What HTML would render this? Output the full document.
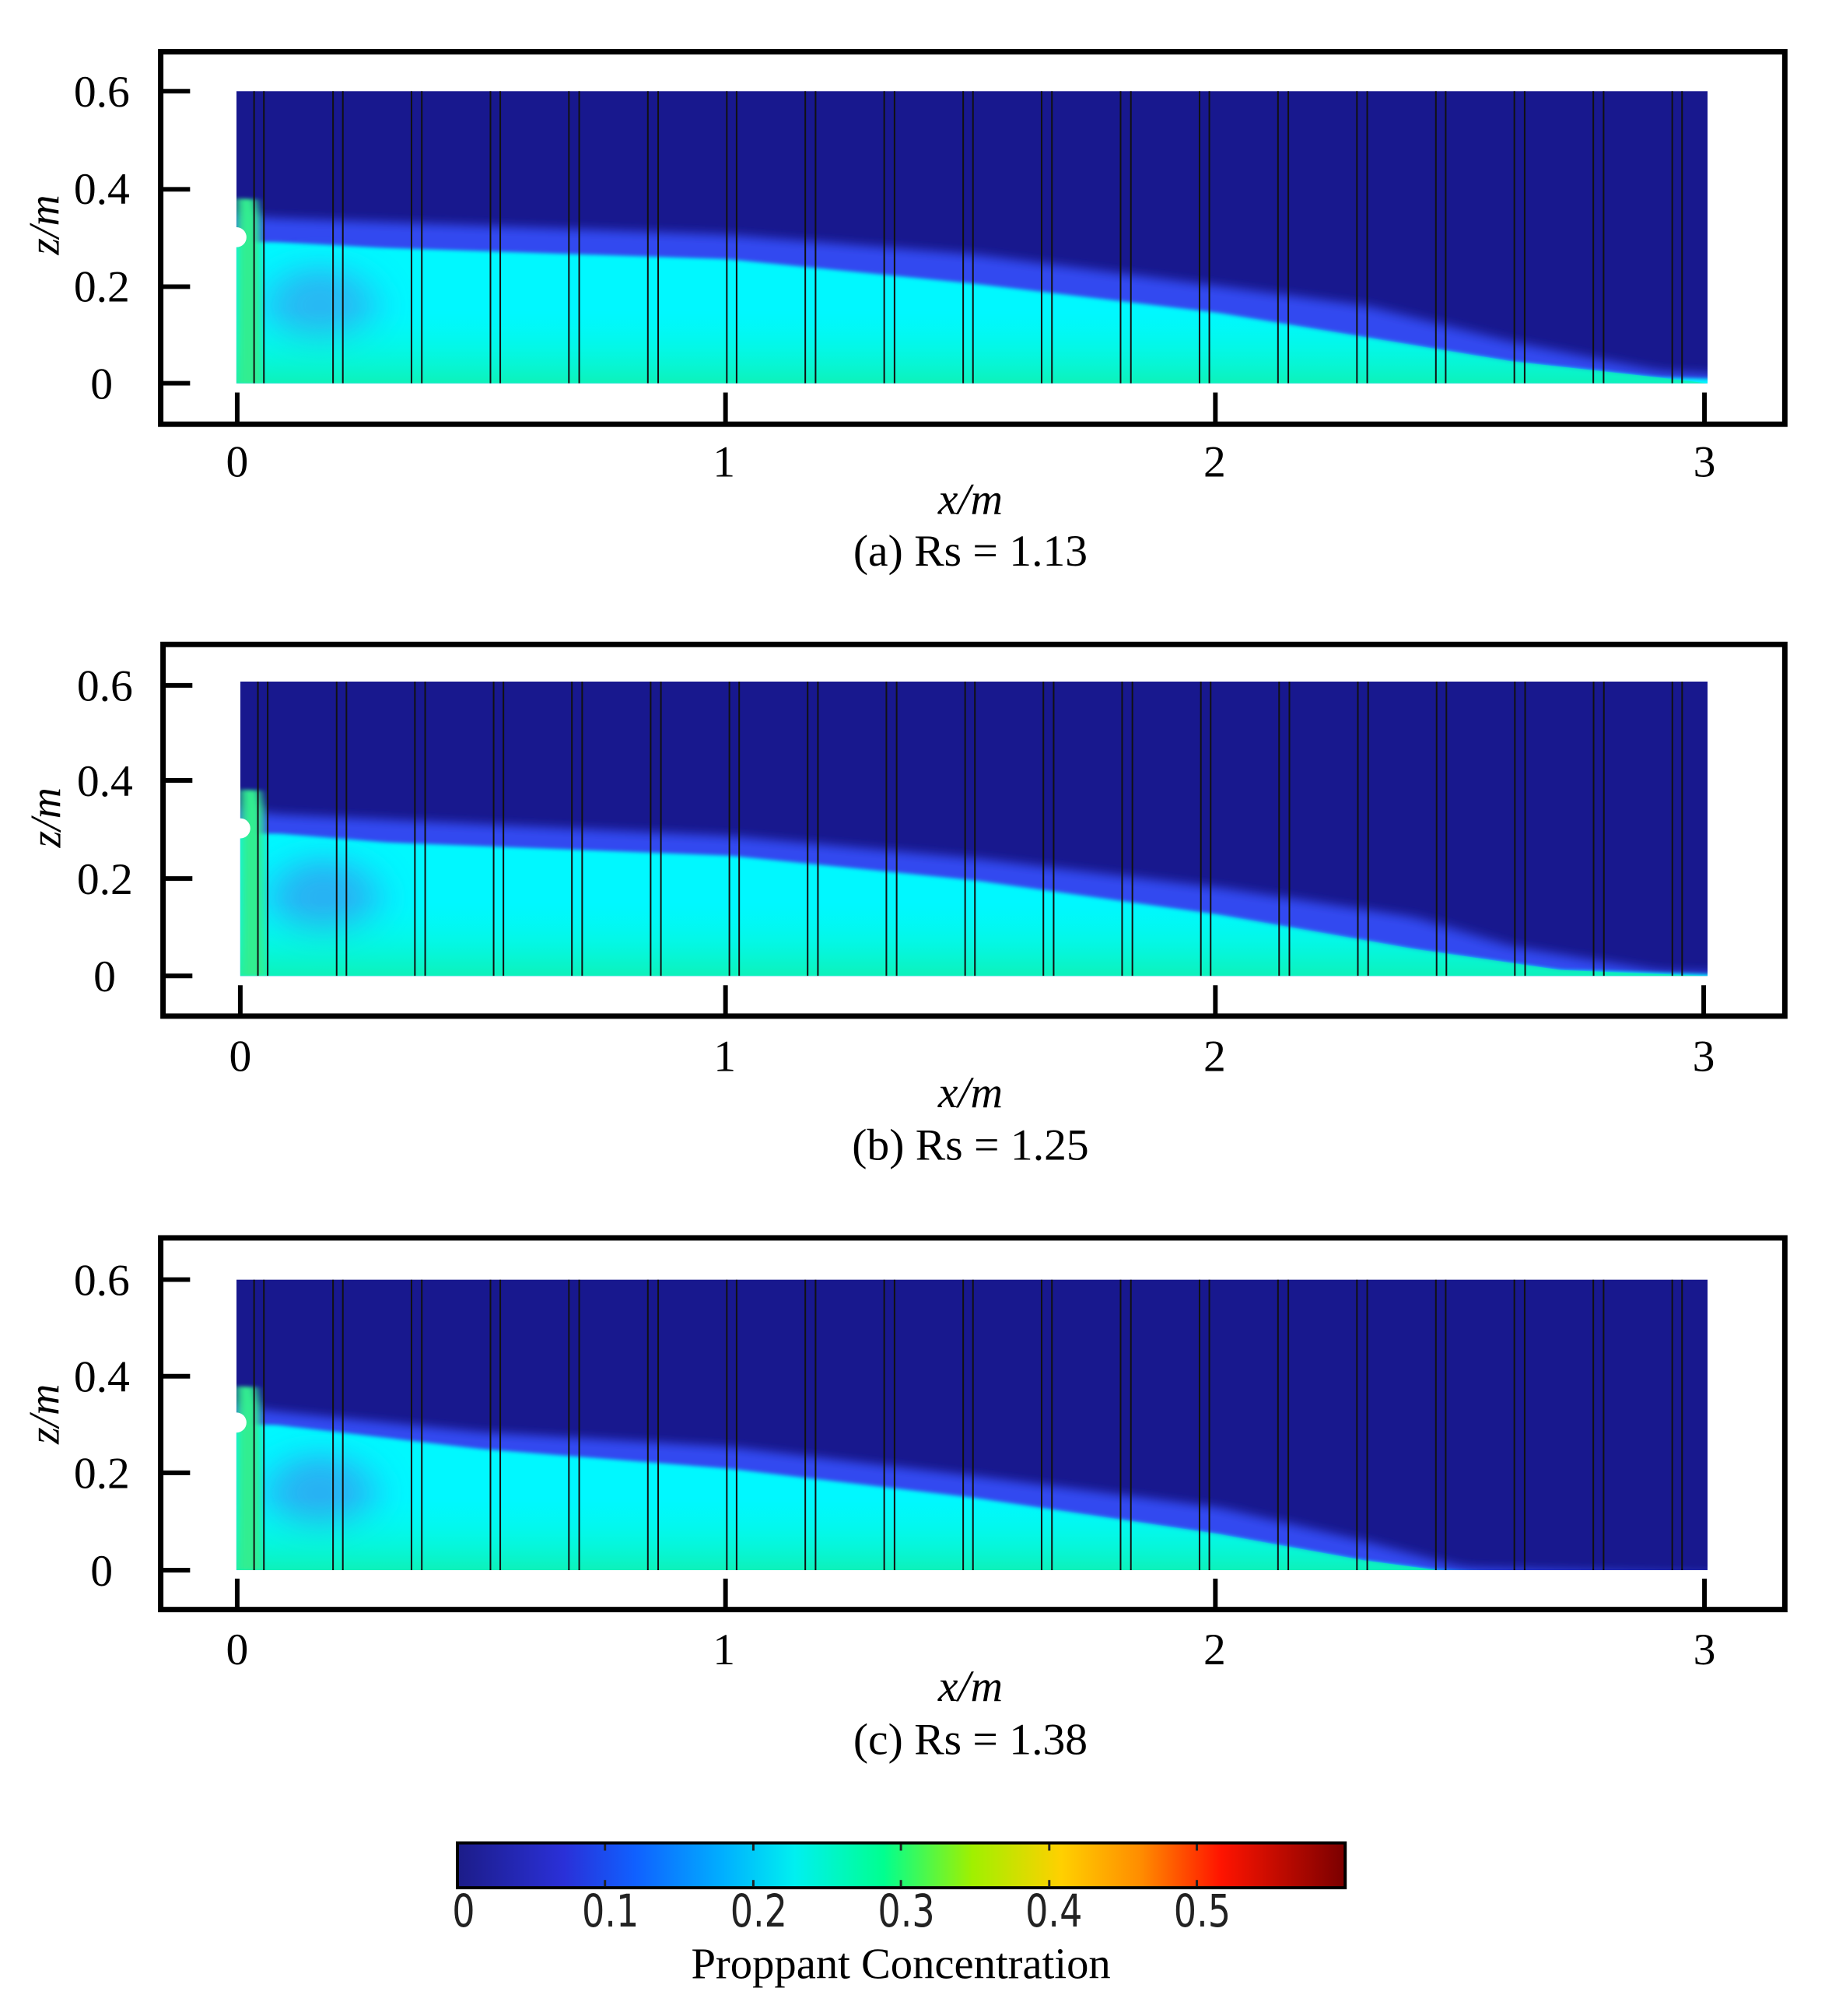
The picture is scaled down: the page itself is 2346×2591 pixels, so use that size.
<!DOCTYPE html>
<html><head><meta charset="utf-8"><style>
html,body{margin:0;padding:0;background:#fff;}
svg{display:block;}
</style></head><body>
<svg width="2346" height="2591" viewBox="0 0 2362 2609" preserveAspectRatio="none" xmlns="http://www.w3.org/2000/svg" font-family="'Liberation Serif', serif">
<defs>
  <filter id="b1" x="-10%" y="-50%" width="120%" height="200%"><feGaussianBlur stdDeviation="22 10"/></filter>
  <filter id="b2" x="-10%" y="-50%" width="120%" height="200%"><feGaussianBlur stdDeviation="10 4"/></filter>
  <filter id="b3" x="-50%" y="-50%" width="200%" height="200%"><feGaussianBlur stdDeviation="40 30"/></filter>
  <linearGradient id="bot" x1="0" y1="0" x2="0" y2="600" gradientUnits="userSpaceOnUse">
    <stop offset="0" stop-color="#00ffe0" stop-opacity="0"/>
    <stop offset="0.75" stop-color="#00ffe0" stop-opacity="0"/>
    <stop offset="1" stop-color="#10f0a8" stop-opacity="0.8"/>
  </linearGradient>
  <linearGradient id="jet" x1="0" y1="0" x2="1" y2="0">
    <stop offset="0" stop-color="#1c1c88"/>
    <stop offset="0.12" stop-color="#2a30d8"/>
    <stop offset="0.2" stop-color="#1060ff"/>
    <stop offset="0.3" stop-color="#00b0ff"/>
    <stop offset="0.38" stop-color="#00f0f0"/>
    <stop offset="0.48" stop-color="#00ff90"/>
    <stop offset="0.58" stop-color="#a0f000"/>
    <stop offset="0.68" stop-color="#ffd000"/>
    <stop offset="0.77" stop-color="#ff8c00"/>
    <stop offset="0.86" stop-color="#ff1400"/>
    <stop offset="1" stop-color="#7a0000"/>
  </linearGradient>
  <g id="vlines" stroke="#111" stroke-width="2">
    <line x1="36" y1="0" x2="36" y2="600" vector-effect="non-scaling-stroke"/><line x1="56" y1="0" x2="56" y2="600" vector-effect="non-scaling-stroke"/>
    <line x1="197" y1="0" x2="197" y2="600" vector-effect="non-scaling-stroke"/><line x1="217" y1="0" x2="217" y2="600" vector-effect="non-scaling-stroke"/>
    <line x1="357" y1="0" x2="357" y2="600" vector-effect="non-scaling-stroke"/><line x1="378" y1="0" x2="378" y2="600" vector-effect="non-scaling-stroke"/>
    <line x1="518" y1="0" x2="518" y2="600" vector-effect="non-scaling-stroke"/><line x1="538" y1="0" x2="538" y2="600" vector-effect="non-scaling-stroke"/>
    <line x1="678" y1="0" x2="678" y2="600" vector-effect="non-scaling-stroke"/><line x1="699" y1="0" x2="699" y2="600" vector-effect="non-scaling-stroke"/>
    <line x1="839" y1="0" x2="839" y2="600" vector-effect="non-scaling-stroke"/><line x1="860" y1="0" x2="860" y2="600" vector-effect="non-scaling-stroke"/>
    <line x1="1000" y1="0" x2="1000" y2="600" vector-effect="non-scaling-stroke"/><line x1="1020" y1="0" x2="1020" y2="600" vector-effect="non-scaling-stroke"/>
    <line x1="1160" y1="0" x2="1160" y2="600" vector-effect="non-scaling-stroke"/><line x1="1181" y1="0" x2="1181" y2="600" vector-effect="non-scaling-stroke"/>
    <line x1="1321" y1="0" x2="1321" y2="600" vector-effect="non-scaling-stroke"/><line x1="1342" y1="0" x2="1342" y2="600" vector-effect="non-scaling-stroke"/>
    <line x1="1482" y1="0" x2="1482" y2="600" vector-effect="non-scaling-stroke"/><line x1="1502" y1="0" x2="1502" y2="600" vector-effect="non-scaling-stroke"/>
    <line x1="1642" y1="0" x2="1642" y2="600" vector-effect="non-scaling-stroke"/><line x1="1663" y1="0" x2="1663" y2="600" vector-effect="non-scaling-stroke"/>
    <line x1="1803" y1="0" x2="1803" y2="600" vector-effect="non-scaling-stroke"/><line x1="1824" y1="0" x2="1824" y2="600" vector-effect="non-scaling-stroke"/>
    <line x1="1964" y1="0" x2="1964" y2="600" vector-effect="non-scaling-stroke"/><line x1="1984" y1="0" x2="1984" y2="600" vector-effect="non-scaling-stroke"/>
    <line x1="2124" y1="0" x2="2124" y2="600" vector-effect="non-scaling-stroke"/><line x1="2145" y1="0" x2="2145" y2="600" vector-effect="non-scaling-stroke"/>
    <line x1="2285" y1="0" x2="2285" y2="600" vector-effect="non-scaling-stroke"/><line x1="2306" y1="0" x2="2306" y2="600" vector-effect="non-scaling-stroke"/>
    <line x1="2446" y1="0" x2="2446" y2="600" vector-effect="non-scaling-stroke"/><line x1="2466" y1="0" x2="2466" y2="600" vector-effect="non-scaling-stroke"/>
    <line x1="2606" y1="0" x2="2606" y2="600" vector-effect="non-scaling-stroke"/><line x1="2627" y1="0" x2="2627" y2="600" vector-effect="non-scaling-stroke"/>
    <line x1="2767" y1="0" x2="2767" y2="600" vector-effect="non-scaling-stroke"/><line x1="2788" y1="0" x2="2788" y2="600" vector-effect="non-scaling-stroke"/>
    <line x1="2928" y1="0" x2="2928" y2="600" vector-effect="non-scaling-stroke"/><line x1="2948" y1="0" x2="2948" y2="600" vector-effect="non-scaling-stroke"/>
  </g>
  <clipPath id="cp"><rect x="0" y="0" width="3000" height="600"/></clipPath>
</defs>

<!-- ============ PANEL 1 ============ -->
<rect x="208" y="67" width="2102" height="482" fill="none" stroke="#000" stroke-width="7"/>
<svg x="306" y="118" width="1904" height="378" viewBox="0 0 3000 600" preserveAspectRatio="none">
  <g clip-path="url(#cp)">
  <rect width="3000" height="600" fill="#18188e"/>
  <polygon filter="url(#b1)" fill="#3048f0" points="-100,700 -100,240 60,260 1000,295 1500,335 2000,400 2300,440 2600,515 2900,575 3100,585 3100,700"/>
  <polygon filter="url(#b2)" fill="#00f8ff" points="-100,700 -100,310 80,310 300,322 1000,345 1500,395 2000,455 2300,505 2600,555 2900,588 3100,594 3100,700"/>
  <ellipse filter="url(#b3)" cx="170" cy="440" rx="110" ry="80" fill="#30a8f0" opacity="0.8"/>
  <polygon fill="url(#bot)" points="0,600 0,310 300,322 1000,345 1500,395 2000,455 2300,505 2600,555 2900,588 3000,600"/>
  <polygon filter="url(#b2)" fill="#30ee90" points="0,220 40,222 48,260 52,600 0,600"/>
  <use href="#vlines"/>
  </g>
</svg>
<circle cx="306" cy="307" r="13" fill="#fff"/>
<g stroke="#000" stroke-width="6">
  <line x1="208" y1="118" x2="246" y2="118"/><line x1="208" y1="245" x2="246" y2="245"/>
  <line x1="208" y1="371" x2="246" y2="371"/><line x1="208" y1="496" x2="246" y2="496"/>
  <line x1="307" y1="508" x2="307" y2="549"/><line x1="939" y1="508" x2="939" y2="549"/>
  <line x1="1573" y1="508" x2="1573" y2="549"/><line x1="2206" y1="508" x2="2206" y2="549"/>
</g>
<g font-size="58" text-anchor="end">
  <text x="168" y="138">0.6</text><text x="168" y="264">0.4</text>
  <text x="168" y="390">0.2</text><text x="146" y="516">0</text>
</g>
<g font-size="58" text-anchor="middle">
  <text x="307" y="617">0</text><text x="937" y="617">1</text>
  <text x="1572" y="617">2</text><text x="2206" y="617">3</text>
  <text x="1256" y="665" font-style="italic">x/m</text>
  <text x="1256" y="732">(a) Rs = 1.13</text>
</g>
<text x="0" y="0" font-size="56" font-style="italic" text-anchor="middle" transform="translate(76,291) rotate(-90)">z/m</text>

<!-- ============ PANEL 2 ============ -->
<rect x="211" y="834" width="2099" height="481" fill="none" stroke="#000" stroke-width="7"/>
<svg x="311" y="882" width="1899" height="381" viewBox="0 0 3000 600" preserveAspectRatio="none">
  <g clip-path="url(#cp)">
  <rect width="3000" height="600" fill="#18188e"/>
  <polygon filter="url(#b1)" fill="#3048f0" points="-100,700 -100,240 60,270 1000,315 1500,360 2000,420 2400,480 2600,540 2900,590 3100,595 3100,700"/>
  <polygon filter="url(#b2)" fill="#00f8ff" points="-100,700 -100,310 80,310 300,328 1000,355 1500,405 2000,475 2400,545 2700,588 3100,600 3100,700"/>
  <ellipse filter="url(#b3)" cx="170" cy="440" rx="110" ry="80" fill="#30a0f0" opacity="0.8"/>
  <polygon fill="url(#bot)" points="0,600 0,310 300,328 1000,355 1500,405 2000,475 2400,545 2700,588 3000,600"/>
  <polygon filter="url(#b2)" fill="#30ee90" points="0,220 40,222 48,260 52,600 0,600"/>
  <use href="#vlines"/>
  </g>
</svg>
<circle cx="311" cy="1072" r="13" fill="#fff"/>
<g stroke="#000" stroke-width="6">
  <line x1="211" y1="887" x2="249" y2="887"/><line x1="211" y1="1010" x2="249" y2="1010"/>
  <line x1="211" y1="1137" x2="249" y2="1137"/><line x1="211" y1="1263" x2="249" y2="1263"/>
  <line x1="311" y1="1275" x2="311" y2="1315"/><line x1="939" y1="1275" x2="939" y2="1315"/>
  <line x1="1573" y1="1275" x2="1573" y2="1315"/><line x1="2205" y1="1275" x2="2205" y2="1315"/>
</g>
<g font-size="58" text-anchor="end">
  <text x="172" y="907">0.6</text><text x="172" y="1030">0.4</text>
  <text x="172" y="1157">0.2</text><text x="150" y="1283">0</text>
</g>
<g font-size="58" text-anchor="middle">
  <text x="311" y="1386">0</text><text x="938" y="1386">1</text>
  <text x="1572" y="1386">2</text><text x="2205" y="1386">3</text>
  <text x="1256" y="1433" font-style="italic">x/m</text>
  <text x="1256" y="1501">(b) Rs = 1.25</text>
</g>
<text x="0" y="0" font-size="56" font-style="italic" text-anchor="middle" transform="translate(78,1058) rotate(-90)">z/m</text>

<!-- ============ PANEL 3 ============ -->
<rect x="208" y="1602" width="2102" height="481" fill="none" stroke="#000" stroke-width="7"/>
<svg x="306" y="1656" width="1904" height="376" viewBox="0 0 3000 600" preserveAspectRatio="none">
  <g clip-path="url(#cp)">
  <rect width="3000" height="600" fill="#18188e"/>
  <polygon filter="url(#b1)" fill="#3048f0" points="-100,700 -100,240 60,270 500,315 1000,345 1500,405 2000,470 2300,540 2500,595 3100,610 3100,700"/>
  <polygon filter="url(#b2)" fill="#00f8ff" points="-100,700 -100,300 80,300 500,350 1000,390 1500,450 2000,525 2300,580 2450,600 3100,640 3100,700"/>
  <ellipse filter="url(#b3)" cx="170" cy="440" rx="110" ry="80" fill="#30a0f0" opacity="0.8"/>
  <polygon fill="url(#bot)" points="0,600 0,300 500,350 1000,390 1500,450 2000,525 2300,580 2450,600"/>
  <polygon filter="url(#b2)" fill="#30ee90" points="0,220 40,222 48,260 52,600 0,600"/>
  <use href="#vlines"/>
  </g>
</svg>
<circle cx="306" cy="1841" r="13" fill="#fff"/>
<g stroke="#000" stroke-width="6">
  <line x1="208" y1="1656" x2="246" y2="1656"/><line x1="208" y1="1781" x2="246" y2="1781"/>
  <line x1="208" y1="1906" x2="246" y2="1906"/><line x1="208" y1="2032" x2="246" y2="2032"/>
  <line x1="307" y1="2043" x2="307" y2="2083"/><line x1="939" y1="2043" x2="939" y2="2083"/>
  <line x1="1573" y1="2043" x2="1573" y2="2083"/><line x1="2206" y1="2043" x2="2206" y2="2083"/>
</g>
<g font-size="58" text-anchor="end">
  <text x="168" y="1676">0.6</text><text x="168" y="1801">0.4</text>
  <text x="168" y="1926">0.2</text><text x="146" y="2052">0</text>
</g>
<g font-size="58" text-anchor="middle">
  <text x="307" y="2154">0</text><text x="937" y="2154">1</text>
  <text x="1572" y="2154">2</text><text x="2206" y="2154">3</text>
  <text x="1256" y="2201" font-style="italic">x/m</text>
  <text x="1256" y="2270">(c) Rs = 1.38</text>
</g>
<text x="0" y="0" font-size="56" font-style="italic" text-anchor="middle" transform="translate(76,1830) rotate(-90)">z/m</text>

<!-- ============ COLORBAR ============ -->
<rect x="592" y="2385" width="1149" height="58" fill="url(#jet)" stroke="#000" stroke-width="4"/>
<g stroke="#222" stroke-width="3">
  <line x1="783" y1="2387" x2="783" y2="2395"/><line x1="783" y1="2433" x2="783" y2="2441"/>
  <line x1="975" y1="2387" x2="975" y2="2395"/><line x1="975" y1="2433" x2="975" y2="2441"/>
  <line x1="1166" y1="2387" x2="1166" y2="2395"/><line x1="1166" y1="2433" x2="1166" y2="2441"/>
  <line x1="1358" y1="2387" x2="1358" y2="2395"/><line x1="1358" y1="2433" x2="1358" y2="2441"/>
  <line x1="1549" y1="2387" x2="1549" y2="2395"/><line x1="1549" y1="2433" x2="1549" y2="2441"/>
</g>
<g font-family="'DejaVu Sans', sans-serif" font-size="58" fill="#222" text-anchor="middle">
  <text x="600" y="2493" transform="translate(600,0) scale(0.8,1) translate(-600,0)">0</text>
  <text x="790" y="2493" transform="translate(790,0) scale(0.8,1) translate(-790,0)">0.1</text>
  <text x="982" y="2493" transform="translate(982,0) scale(0.8,1) translate(-982,0)">0.2</text>
  <text x="1173" y="2493" transform="translate(1173,0) scale(0.8,1) translate(-1173,0)">0.3</text>
  <text x="1364" y="2493" transform="translate(1364,0) scale(0.8,1) translate(-1364,0)">0.4</text>
  <text x="1556" y="2493" transform="translate(1556,0) scale(0.8,1) translate(-1556,0)">0.5</text>
</g>
<text x="1166" y="2560" font-size="57" text-anchor="middle">Proppant Concentration</text>
</svg>
</body></html>
